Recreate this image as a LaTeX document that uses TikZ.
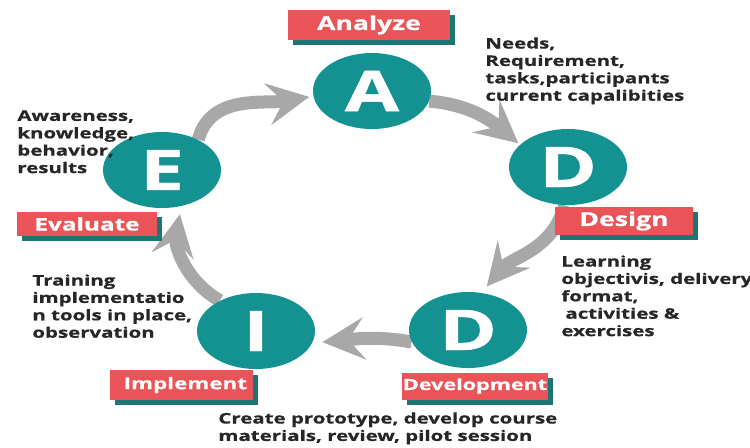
\documentclass[tikz,border=0pt]{standalone}
\usepackage{fontspec}
\newfontfamily\addiefont{Open Sans}[FakeStretch=1.4, BoldFeatures={FakeBold=0.8}]
\usetikzlibrary{shapes.geometric,arrows.meta,shadows,backgrounds}

\definecolor{ringteal}{RGB}{20,146,146}
\definecolor{tagred}{RGB}{234,84,88}
\definecolor{tagshadow}{RGB}{30,118,116}
\definecolor{loopgray}{RGB}{168,168,168}
\definecolor{notetext}{RGB}{38,38,38}

\tikzset{
  ring/.style={ellipse, fill=ringteal, minimum width=59pt, minimum height=38pt, inner sep=0pt,
    text=white, font=\addiefont\bfseries\fontsize{28}{28}\selectfont},
  tag/.style={fill=tagred, text=white, inner sep=0pt,
    general shadow={fill=tagshadow, shadow xshift=2.5pt, shadow yshift=-2.5pt},
    font=\addiefont\bfseries\fontsize{#1}{#1}\selectfont},
  tag/.default=9.5,
  note/.style={anchor=north west, inner sep=0pt, align=left, text=notetext,
    font=\addiefont\bfseries\fontsize{7.3}{8.7}\selectfont},
  cyclearrow/.style={draw=loopgray, line width=6.5pt, -{Stealth[length=21pt,width=21pt,inset=8pt]}}
}

\begin{document}
\begin{tikzpicture}[x=0.5pt,y=-0.5pt]
\useasboundingbox (0,0) rectangle (750,447);

% the five phases
\node[ring] (A) at (372,91) {A};
\node[ring] (D1) at (568,167) {D};
\node[ring] (D2) at (468,330) {D};
\node[ring] (I) at (256,331) {I};
\node[ring] (E) at (162,170) {E};

% phase names
\node[tag, minimum width=81pt, minimum height=15pt] (tagA) at (369,25) {Analyze};
\node[tag, minimum width=69pt, minimum height=14pt] (tagD1) at (624,221) {Design};
\node[tag=8.7, minimum width=70pt, minimum height=12pt] (tagE) at (87,224) {Evaluate};
\node[tag=8, minimum width=71.5pt, minimum height=15pt, text width=66pt, align=right] (tagI) at (181,385) {Implement};
\node[tag=7.7, minimum width=73pt, minimum height=13.5pt] (tagD2) at (475,386) {Development};

% notes
\node[note] (needs) at (485,37) {Needs,\\Requirement,\\tasks,participants\\current capalibities};
\node[note] (aware) at (17,110) {Awareness,\\knowledge,\\behavior,\\results};
\node[note] (train) at (32,274) {Training\\implementatio\\n tools in place,\\observation};
\node[note] (learn) at (561,255) {Learning\\objectivis, delivery\\format,\\\hspace{2pt}activities \&\\exercises};
\node[note] (create) at (218,412) {Create prototype, develop course\\materials, review, pilot session};

% cycle
\begin{scope}[on background layer]
\draw[cyclearrow, shorten >=2pt] (E.40) to[out=75,in=190] (A.185);
\draw[cyclearrow, shorten >=1pt] (A.-10) to[out=-5,in=140] (D1.155);
\draw[cyclearrow, shorten >=4pt] (D1.-95) to[out=-105,in=50] (D2.70);
\draw[cyclearrow, shorten >=5pt] (D2.192) to[out=170,in=5] (I.-12);
\draw[cyclearrow, shorten >=4pt] (I.140) to[out=150,in=-100] (E.-62);
\end{scope}
\end{tikzpicture}
\end{document}
